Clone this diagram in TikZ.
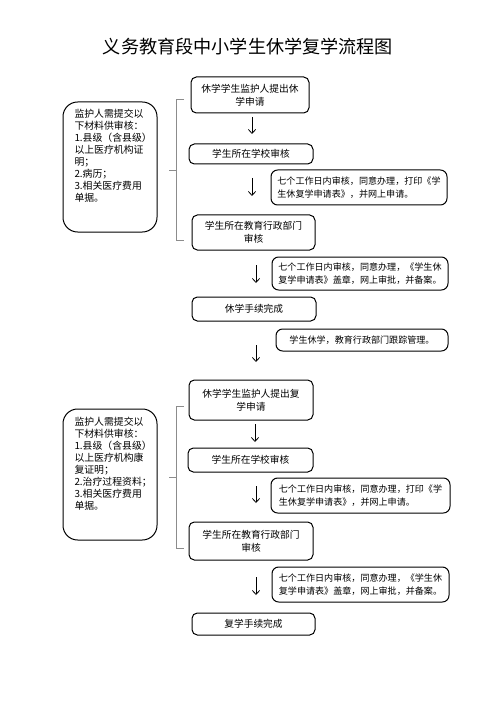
\documentclass[tikz,border=0pt]{standalone}
\usepackage{fontspec}
\setmainfont{Noto Sans CJK SC}
\usetikzlibrary{arrows.meta}

\tikzset{every picture/.style={line width=0.75pt}}
\tikzset{
  stepbox/.style={draw, rounded corners=4pt, inner sep=0pt, align=center, font=\fontsize{7.3}{9.5}\selectfont},
  notebox/.style={draw, rounded corners=5pt, inner sep=0pt, align=left, font=\fontsize{6.8}{9.5}\selectfont},
  listbox/.style={draw, rounded corners=11pt, inner sep=0pt},
  listtext/.style={inner sep=0pt, align=left, anchor=north west, font=\fontsize{7.4}{9}\selectfont},
  brace/.style={draw={rgb,255:red,140;green,140;blue,140}, line width=0.6pt},
  flow/.style={-{Straight Barb[length=3pt,width=5.5pt]}, line width=0.6pt},
}

\begin{document}
\begin{tikzpicture}[x=0.75pt,y=0.75pt,yscale=-1,xscale=1]
				\useasboundingbox (0,0) rectangle (496,702);
				% Text Node
				\node [font=\fontsize{13.6}{16}\selectfont] (title) at (248,47) {义务教育段中小学生休学复学流程图};

				%Shape: Rounded Rect [id:leave1]
				\node [listbox, minimum width=70.5pt, minimum height=97.5pt] (l1) at (110,167) {};
				% Text Node
				\node [listtext] (l1t) at (74,109) {监护人需提交以\\下材料供审核：\\1.县级（含县级）\\以上医疗机构证\\明；\\2.病历；\\3.相关医疗费用\\单据。};
				%Shape: Brace [id:leave1]
				\draw [brace] (184,99) -- (176.5,99) -- (176.5,240) -- (184,240) ;
				\draw [brace] (176.5,170) -- (169,170) ;

				%Shape: Rounded Rect [id:leave2]
				\node [stepbox, minimum width=88.5pt, minimum height=27pt] (b1) at (250,95) {休学学生监护人提出休\\学申请};
				\node [stepbox, minimum width=93pt, minimum height=15pt] (b2) at (251,154) {学生所在学校审核};
				\node [stepbox, minimum width=92.25pt, minimum height=26.25pt] (b3) at (253.5,232.5) {学生所在教育行政部门\\审核};
				\node [stepbox, minimum width=93pt, minimum height=18pt] (b4) at (254,309) {休学手续完成};
				%Shape: Rounded Rect [id:leave3]
				\node [notebox, minimum width=132pt, minimum height=26.25pt] (s1) at (359,187.5) {七个工作日内审核，同意办理，打印《学\\生休复学申请表》，并网上申请。};
				\node [notebox, minimum width=132pt, minimum height=24.75pt] (s2) at (360,273.5) {七个工作日内审核，同意办理，《学生休\\复学申请表》盖章，网上审批，并备案。};
				\node [notebox, minimum width=129pt, minimum height=16.5pt] (s3) at (362,340) {学生休学，教育行政部门跟踪管理。};

				%Straight Lines [id:leave4]
				\coordinate (a1s) at (252,117); \coordinate (a1e) at (252,134);
				\coordinate (a2s) at (252,178); \coordinate (a2e) at (252,196);
				\coordinate (a3s) at (256,265); \coordinate (a3e) at (256,283);
				\coordinate (a4s) at (256,345); \coordinate (a4e) at (256,362);
				\draw [flow] (a1s) -- (a1e) ;
				\draw [flow] (a2s) -- (a2e) ;
				\draw [flow] (a3s) -- (a3e) ;
				\draw [flow] (a4s) -- (a4e) ;

				%Shape: Rounded Rect [id:back1]
				\node [listbox, minimum width=70.5pt, minimum height=98.25pt] (l2) at (110,474.5) {};
				% Text Node
				\node [listtext] (l2t) at (74,417) {监护人需提交以\\下材料供审核：\\1.县级（含县级）\\以上医疗机构康\\复证明；\\2.治疗过程资料；\\3.相关医疗费用\\单据。};
				%Shape: Brace [id:back1]
				\draw [brace] (184,406) -- (176,406) -- (176,548) -- (184,548) ;
				\draw [brace] (176,477) -- (168.5,477) ;

				%Shape: Rounded Rect [id:back2]
				\node [stepbox, minimum width=93pt, minimum height=30pt] (b5) at (251,400) {休学学生监护人提出复\\学申请};
				\node [stepbox, minimum width=93.75pt, minimum height=18pt] (b6) at (250.5,460) {学生所在学校审核};
				\node [stepbox, minimum width=93pt, minimum height=28.5pt] (b7) at (251,541) {学生所在教育行政部门\\审核};
				\node [stepbox, minimum width=92.25pt, minimum height=16.5pt] (b8) at (253.5,624) {复学手续完成};
				%Shape: Rounded Rect [id:back3]
				\node [notebox, minimum width=134.25pt, minimum height=26.25pt] (s4) at (360.5,495.5) {七个工作日内审核，同意办理，打印《学\\生休复学申请表》，并网上申请。};
				\node [notebox, minimum width=132.75pt, minimum height=26.25pt] (s5) at (360.5,584.5) {七个工作日内审核，同意办理，《学生休\\复学申请表》盖章，网上审批，并备案。};

				%Straight Lines [id:back4]
				\coordinate (a5s) at (255,424); \coordinate (a5e) at (255,442);
				\coordinate (a6s) at (256,486); \coordinate (a6e) at (256,503);
				\coordinate (a7s) at (256,577); \coordinate (a7e) at (256,595);
				\draw [flow] (a5s) -- (a5e) ;
				\draw [flow] (a6s) -- (a6e) ;
				\draw [flow] (a7s) -- (a7e) ;
\end{tikzpicture}
\end{document}
